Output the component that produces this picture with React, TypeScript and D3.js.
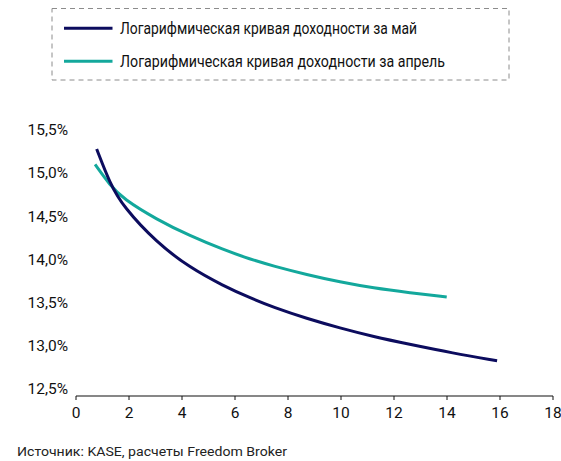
import React from "react";
import * as d3 from "d3";

const seriesNames = [
  "Логарифмическая кривая доходности за май",
  "Логарифмическая кривая доходности за апрель",
];
const legendWidths = [297, 325];
const seriesColors = ["#0c0c5e", "#13a89c"];

const mayX = [0.78, 1.28, 1.78, 3.05, 4.3, 5.56, 6.57, 7.45, 8.71, 9.96, 11.22, 12.6, 14.2, 15.89];
const mayY = [15.28, 14.88, 14.61, 14.19, 13.9, 13.69, 13.55, 13.44, 13.31, 13.2, 13.1, 13.01, 12.91, 12.82];

const aprX = [0.72, 1.28, 1.78, 3.05, 4.3, 5.56, 6.57, 7.45, 8.71, 9.96, 11.22, 12.6, 13.99];
const aprY = [15.1, 14.86, 14.7, 14.46, 14.27, 14.11, 14.0, 13.92, 13.82, 13.735, 13.665, 13.61, 13.56];

const xTicks = [0, 2, 4, 6, 8, 10, 12, 14, 16, 18];
const yTicks = [12.5, 13.0, 13.5, 14.0, 14.5, 15.0, 15.5];
const sourceText = "Источник: KASE, расчеты Freedom Broker";

export default function App() {
  const x = d3.scaleLinear().domain([0, 18]).range([76, 553]);
  const y = d3.scaleLinear().domain([12.5, 15.5]).range([388.3, 130]);
  const axisY = 396;
  const line = d3
    .line<[number, number]>()
    .x((d) => x(d[0]))
    .y((d) => y(d[1]))
    .curve(d3.curveBasis);
  const mayPts = mayX.map((v, i) => [v, mayY[i]] as [number, number]);
  const aprPts = aprX.map((v, i) => [v, aprY[i]] as [number, number]);
  const font = "Roboto, 'Noto Sans', sans-serif";
  const fmt = (v: number) => v.toFixed(1).replace(".", ",") + "%";
  return (
    <svg
      width={561}
      height={461}
      style={{ position: "absolute", left: 0, top: 0, background: "#fff" }}
      fontFamily={font}
    >
      <rect x={0} y={0} width={561} height={461} fill="#fff" />
      {/* legend */}
      <rect
        x={52}
        y={8.5}
        width={457}
        height={71.5}
        fill="none"
        stroke="#8c8c8c"
        strokeWidth={1}
        strokeDasharray="5,4"
      />
      {seriesNames.map((name, i) => (
        <g key={name}>
          <line
            x1={64}
            x2={112.5}
            y1={28.3 + i * 33}
            y2={28.3 + i * 33}
            stroke={seriesColors[i]}
            strokeWidth={3}
          />
          <text
            x={120}
            y={28.3 + i * 33}
            dy="0.35em"
            fontSize={16}
            fill="#111"
            textLength={legendWidths[i]}
            lengthAdjust="spacingAndGlyphs"
          >
            {name}
          </text>
        </g>
      ))}
      {/* y labels */}
      {yTicks.map((t) => (
        <text
          key={t}
          x={68}
          y={y(t)}
          dy="0.35em"
          textAnchor="end"
          fontSize={15.5}
          fill="#111"
        >
          {fmt(t)}
        </text>
      ))}
      {/* x axis */}
      <line x1={76} x2={553} y1={axisY} y2={axisY} stroke="#111" strokeWidth={1.2} />
      {xTicks.map((t) => (
        <g key={t}>
          <line x1={x(t)} x2={x(t)} y1={axisY} y2={axisY + 4} stroke="#111" strokeWidth={1} />
          <text x={x(t)} y={413} dy="0.35em" textAnchor="middle" fontSize={15.5} fill="#111">
            {t}
          </text>
        </g>
      ))}
      {/* curves */}
      <path d={line(aprPts) || ""} fill="none" stroke={seriesColors[1]} strokeWidth={3} />
      <path d={line(mayPts) || ""} fill="none" stroke={seriesColors[0]} strokeWidth={3} />
      <text
        x={17}
        y={452}
        dy="0.35em"
        fontSize={12.5}
        fill="#222"
        textLength={270}
        lengthAdjust="spacingAndGlyphs"
      >
        {sourceText}
      </text>
    </svg>
  );
}
